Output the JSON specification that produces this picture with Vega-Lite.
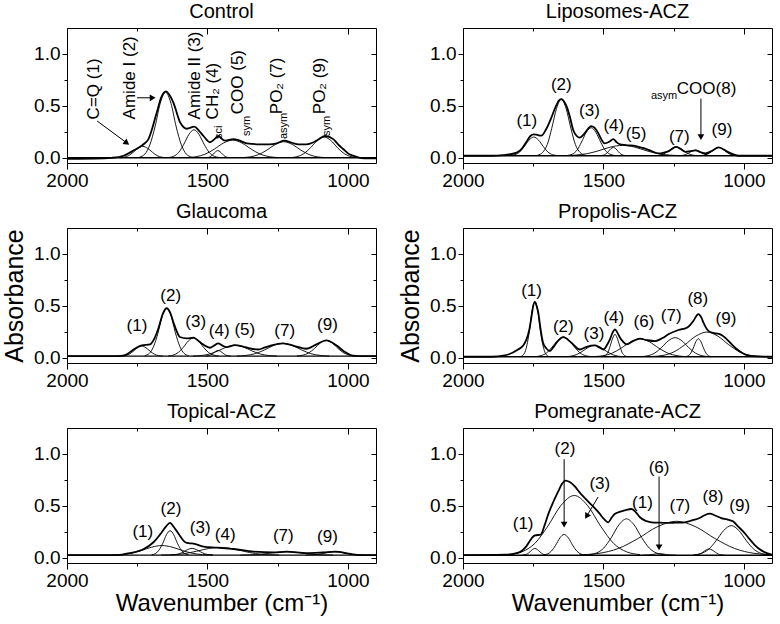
{
"$schema":"https://vega.github.io/schema/vega-lite/v6.json",
"background":"white",
"padding":{"left":2,"top":1,"right":0,"bottom":0},
"config":{
 "view":{"stroke":"black","strokeWidth":1},
 "font":"Liberation Sans",
 "mark":{"color":"black"},
 "axis":{"grid":false,"domain":false,"tickColor":"black","tickWidth":1,"labelColor":"black","labelFont":"Liberation Sans","labelFontSize":19,"labelPadding":2,"titleFont":"Liberation Sans","titleFontSize":25,"titleFontWeight":"normal","titleColor":"black","titlePadding":6},
 "title":{"font":"Liberation Sans","fontSize":20,"fontWeight":"normal","color":"black","offset":6},
 "text":{"font":"Liberation Sans","fontSize":17,"color":"black"},
 "concat":{"spacing":20}
},
"datasets":{
"base":[{"p":"C","y":0},{"p":"L","y":0.02},{"p":"G","y":0.016},{"p":"P","y":0.01},{"p":"T","y":0.026},{"p":"M","y":0.025}],
"comp":[
{"p":"C","s":"1","x":1646,"y":0.001},{"p":"C","s":"1","x":1663,"y":0.006},{"p":"C","s":"1","x":1680,"y":0.022},{"p":"C","s":"1","x":1696,"y":0.054},{"p":"C","s":"1","x":1713,"y":0.092},{"p":"C","s":"1","x":1730,"y":0.11},{"p":"C","s":"1","x":1747,"y":0.092},{"p":"C","s":"1","x":1764,"y":0.054},{"p":"C","s":"1","x":1780,"y":0.022},{"p":"C","s":"1","x":1797,"y":0.006},{"p":"C","s":"1","x":1814,"y":0.001},
{"p":"C","s":"2","x":1556,"y":0.007},{"p":"C","s":"2","x":1575,"y":0.035},{"p":"C","s":"2","x":1593,"y":0.125},{"p":"C","s":"2","x":1612,"y":0.307},{"p":"C","s":"2","x":1630,"y":0.526},{"p":"C","s":"2","x":1649,"y":0.63},{"p":"C","s":"2","x":1668,"y":0.526},{"p":"C","s":"2","x":1686,"y":0.307},{"p":"C","s":"2","x":1705,"y":0.125},{"p":"C","s":"2","x":1723,"y":0.035},{"p":"C","s":"2","x":1742,"y":0.007},
{"p":"C","s":"3","x":1458,"y":0.003},{"p":"C","s":"3","x":1476,"y":0.015},{"p":"C","s":"3","x":1494,"y":0.053},{"p":"C","s":"3","x":1512,"y":0.131},{"p":"C","s":"3","x":1530,"y":0.225},{"p":"C","s":"3","x":1548,"y":0.27},{"p":"C","s":"3","x":1566,"y":0.225},{"p":"C","s":"3","x":1584,"y":0.131},{"p":"C","s":"3","x":1602,"y":0.053},{"p":"C","s":"3","x":1620,"y":0.015},{"p":"C","s":"3","x":1638,"y":0.003},
{"p":"C","s":"4","x":1421,"y":0.001},{"p":"C","s":"4","x":1429,"y":0.004},{"p":"C","s":"4","x":1438,"y":0.014},{"p":"C","s":"4","x":1446,"y":0.034},{"p":"C","s":"4","x":1455,"y":0.058},{"p":"C","s":"4","x":1463,"y":0.07},{"p":"C","s":"4","x":1471,"y":0.058},{"p":"C","s":"4","x":1480,"y":0.034},{"p":"C","s":"4","x":1488,"y":0.014},{"p":"C","s":"4","x":1497,"y":0.004},{"p":"C","s":"4","x":1505,"y":0.001},
{"p":"C","s":"5","x":1245,"y":0.002},{"p":"C","s":"5","x":1278,"y":0.01},{"p":"C","s":"5","x":1311,"y":0.034},{"p":"C","s":"5","x":1344,"y":0.083},{"p":"C","s":"5","x":1377,"y":0.142},{"p":"C","s":"5","x":1410,"y":0.17},{"p":"C","s":"5","x":1443,"y":0.142},{"p":"C","s":"5","x":1476,"y":0.083},{"p":"C","s":"5","x":1509,"y":0.034},{"p":"C","s":"5","x":1542,"y":0.01},{"p":"C","s":"5","x":1575,"y":0.002},
{"p":"C","s":"7","x":1078,"y":0.002},{"p":"C","s":"7","x":1108,"y":0.009},{"p":"C","s":"7","x":1138,"y":0.031},{"p":"C","s":"7","x":1168,"y":0.075},{"p":"C","s":"7","x":1198,"y":0.129},{"p":"C","s":"7","x":1228,"y":0.155},{"p":"C","s":"7","x":1258,"y":0.129},{"p":"C","s":"7","x":1288,"y":0.075},{"p":"C","s":"7","x":1318,"y":0.031},{"p":"C","s":"7","x":1348,"y":0.009},{"p":"C","s":"7","x":1378,"y":0.002},
{"p":"C","s":"9","x":965,"y":0.002},{"p":"C","s":"9","x":989,"y":0.011},{"p":"C","s":"9","x":1013,"y":0.04},{"p":"C","s":"9","x":1037,"y":0.097},{"p":"C","s":"9","x":1061,"y":0.167},{"p":"C","s":"9","x":1085,"y":0.2},{"p":"C","s":"9","x":1109,"y":0.167},{"p":"C","s":"9","x":1133,"y":0.097},{"p":"C","s":"9","x":1157,"y":0.04},{"p":"C","s":"9","x":1181,"y":0.011},{"p":"C","s":"9","x":1205,"y":0.002},

{"p":"L","s":"1","x":1664,"y":0.022},{"p":"L","s":"1","x":1681,"y":0.03},{"p":"L","s":"1","x":1698,"y":0.056},{"p":"L","s":"1","x":1714,"y":0.108},{"p":"L","s":"1","x":1731,"y":0.17},{"p":"L","s":"1","x":1748,"y":0.2},{"p":"L","s":"1","x":1765,"y":0.17},{"p":"L","s":"1","x":1782,"y":0.108},{"p":"L","s":"1","x":1798,"y":0.056},{"p":"L","s":"1","x":1815,"y":0.03},{"p":"L","s":"1","x":1832,"y":0.022},
{"p":"L","s":"2","x":1566,"y":0.026},{"p":"L","s":"2","x":1583,"y":0.051},{"p":"L","s":"2","x":1600,"y":0.128},{"p":"L","s":"2","x":1616,"y":0.285},{"p":"L","s":"2","x":1633,"y":0.475},{"p":"L","s":"2","x":1650,"y":0.565},{"p":"L","s":"2","x":1667,"y":0.475},{"p":"L","s":"2","x":1684,"y":0.285},{"p":"L","s":"2","x":1700,"y":0.128},{"p":"L","s":"2","x":1717,"y":0.051},{"p":"L","s":"2","x":1734,"y":0.026},
{"p":"L","s":"3","x":1460,"y":0.023},{"p":"L","s":"3","x":1477,"y":0.035},{"p":"L","s":"3","x":1494,"y":0.074},{"p":"L","s":"3","x":1510,"y":0.152},{"p":"L","s":"3","x":1527,"y":0.246},{"p":"L","s":"3","x":1544,"y":0.29},{"p":"L","s":"3","x":1561,"y":0.246},{"p":"L","s":"3","x":1578,"y":0.152},{"p":"L","s":"3","x":1594,"y":0.074},{"p":"L","s":"3","x":1611,"y":0.035},{"p":"L","s":"3","x":1628,"y":0.023},
{"p":"L","s":"4","x":1420,"y":0.021},{"p":"L","s":"4","x":1429,"y":0.025},{"p":"L","s":"4","x":1438,"y":0.036},{"p":"L","s":"4","x":1447,"y":0.059},{"p":"L","s":"4","x":1456,"y":0.087},{"p":"L","s":"4","x":1465,"y":0.1},{"p":"L","s":"4","x":1474,"y":0.087},{"p":"L","s":"4","x":1483,"y":0.059},{"p":"L","s":"4","x":1492,"y":0.036},{"p":"L","s":"4","x":1501,"y":0.025},{"p":"L","s":"4","x":1510,"y":0.021},
{"p":"L","s":"5","x":1222,"y":0.021},{"p":"L","s":"5","x":1264,"y":0.026},{"p":"L","s":"5","x":1306,"y":0.04},{"p":"L","s":"5","x":1348,"y":0.069},{"p":"L","s":"5","x":1390,"y":0.104},{"p":"L","s":"5","x":1432,"y":0.12},{"p":"L","s":"5","x":1474,"y":0.104},{"p":"L","s":"5","x":1516,"y":0.069},{"p":"L","s":"5","x":1558,"y":0.04},{"p":"L","s":"5","x":1600,"y":0.026},{"p":"L","s":"5","x":1642,"y":0.021},
{"p":"L","s":"7","x":1166,"y":0.021},{"p":"L","s":"7","x":1181,"y":0.025},{"p":"L","s":"7","x":1196,"y":0.037},{"p":"L","s":"7","x":1211,"y":0.062},{"p":"L","s":"7","x":1226,"y":0.092},{"p":"L","s":"7","x":1241,"y":0.106},{"p":"L","s":"7","x":1256,"y":0.092},{"p":"L","s":"7","x":1271,"y":0.062},{"p":"L","s":"7","x":1286,"y":0.037},{"p":"L","s":"7","x":1301,"y":0.025},{"p":"L","s":"7","x":1316,"y":0.021},
{"p":"L","s":"8","x":1112,"y":0.021},{"p":"L","s":"8","x":1124,"y":0.023},{"p":"L","s":"8","x":1136,"y":0.031},{"p":"L","s":"8","x":1148,"y":0.046},{"p":"L","s":"8","x":1160,"y":0.065},{"p":"L","s":"8","x":1172,"y":0.074},{"p":"L","s":"8","x":1184,"y":0.065},{"p":"L","s":"8","x":1196,"y":0.046},{"p":"L","s":"8","x":1208,"y":0.031},{"p":"L","s":"8","x":1220,"y":0.023},{"p":"L","s":"8","x":1232,"y":0.021},
{"p":"L","s":"9","x":1024,"y":0.021},{"p":"L","s":"9","x":1037,"y":0.025},{"p":"L","s":"9","x":1050,"y":0.036},{"p":"L","s":"9","x":1064,"y":0.059},{"p":"L","s":"9","x":1077,"y":0.087},{"p":"L","s":"9","x":1090,"y":0.1},{"p":"L","s":"9","x":1103,"y":0.087},{"p":"L","s":"9","x":1116,"y":0.059},{"p":"L","s":"9","x":1130,"y":0.036},{"p":"L","s":"9","x":1143,"y":0.025},{"p":"L","s":"9","x":1156,"y":0.021},

{"p":"G","s":"1","x":1659,"y":0.017},{"p":"G","s":"1","x":1674,"y":0.021},{"p":"G","s":"1","x":1689,"y":0.035},{"p":"G","s":"1","x":1704,"y":0.063},{"p":"G","s":"1","x":1719,"y":0.097},{"p":"G","s":"1","x":1734,"y":0.113},{"p":"G","s":"1","x":1749,"y":0.097},{"p":"G","s":"1","x":1764,"y":0.063},{"p":"G","s":"1","x":1779,"y":0.035},{"p":"G","s":"1","x":1794,"y":0.021},{"p":"G","s":"1","x":1809,"y":0.017},
{"p":"G","s":"2","x":1567,"y":0.021},{"p":"G","s":"2","x":1583,"y":0.042},{"p":"G","s":"2","x":1598,"y":0.107},{"p":"G","s":"2","x":1614,"y":0.24},{"p":"G","s":"2","x":1629,"y":0.4},{"p":"G","s":"2","x":1645,"y":0.476},{"p":"G","s":"2","x":1661,"y":0.4},{"p":"G","s":"2","x":1676,"y":0.24},{"p":"G","s":"2","x":1692,"y":0.107},{"p":"G","s":"2","x":1707,"y":0.042},{"p":"G","s":"2","x":1723,"y":0.021},
{"p":"G","s":"3","x":1460,"y":0.018},{"p":"G","s":"3","x":1478,"y":0.026},{"p":"G","s":"3","x":1496,"y":0.051},{"p":"G","s":"3","x":1514,"y":0.101},{"p":"G","s":"3","x":1532,"y":0.162},{"p":"G","s":"3","x":1550,"y":0.191},{"p":"G","s":"3","x":1568,"y":0.162},{"p":"G","s":"3","x":1586,"y":0.101},{"p":"G","s":"3","x":1604,"y":0.051},{"p":"G","s":"3","x":1622,"y":0.026},{"p":"G","s":"3","x":1640,"y":0.018},
{"p":"G","s":"4","x":1417,"y":0.017},{"p":"G","s":"4","x":1426,"y":0.019},{"p":"G","s":"4","x":1435,"y":0.027},{"p":"G","s":"4","x":1444,"y":0.043},{"p":"G","s":"4","x":1453,"y":0.062},{"p":"G","s":"4","x":1462,"y":0.071},{"p":"G","s":"4","x":1471,"y":0.062},{"p":"G","s":"4","x":1480,"y":0.043},{"p":"G","s":"4","x":1489,"y":0.027},{"p":"G","s":"4","x":1498,"y":0.019},{"p":"G","s":"4","x":1507,"y":0.017},
{"p":"G","s":"5","x":1252,"y":0.017},{"p":"G","s":"5","x":1282,"y":0.022},{"p":"G","s":"5","x":1312,"y":0.037},{"p":"G","s":"5","x":1342,"y":0.067},{"p":"G","s":"5","x":1372,"y":0.104},{"p":"G","s":"5","x":1402,"y":0.121},{"p":"G","s":"5","x":1432,"y":0.104},{"p":"G","s":"5","x":1462,"y":0.067},{"p":"G","s":"5","x":1492,"y":0.037},{"p":"G","s":"5","x":1522,"y":0.022},{"p":"G","s":"5","x":1552,"y":0.017},
{"p":"G","s":"7","x":1066,"y":0.017},{"p":"G","s":"7","x":1099,"y":0.023},{"p":"G","s":"7","x":1132,"y":0.04},{"p":"G","s":"7","x":1165,"y":0.076},{"p":"G","s":"7","x":1198,"y":0.119},{"p":"G","s":"7","x":1231,"y":0.139},{"p":"G","s":"7","x":1264,"y":0.119},{"p":"G","s":"7","x":1297,"y":0.076},{"p":"G","s":"7","x":1330,"y":0.04},{"p":"G","s":"7","x":1363,"y":0.023},{"p":"G","s":"7","x":1396,"y":0.017},
{"p":"G","s":"9","x":972,"y":0.018},{"p":"G","s":"9","x":993,"y":0.025},{"p":"G","s":"9","x":1014,"y":0.046},{"p":"G","s":"9","x":1035,"y":0.09},{"p":"G","s":"9","x":1056,"y":0.143},{"p":"G","s":"9","x":1077,"y":0.168},{"p":"G","s":"9","x":1098,"y":0.143},{"p":"G","s":"9","x":1119,"y":0.09},{"p":"G","s":"9","x":1140,"y":0.046},{"p":"G","s":"9","x":1161,"y":0.025},{"p":"G","s":"9","x":1182,"y":0.018},

{"p":"P","s":"1","x":1696,"y":0.016},{"p":"P","s":"1","x":1706,"y":0.04},{"p":"P","s":"1","x":1715,"y":0.115},{"p":"P","s":"1","x":1725,"y":0.268},{"p":"P","s":"1","x":1734,"y":0.453},{"p":"P","s":"1","x":1744,"y":0.54},{"p":"P","s":"1","x":1754,"y":0.453},{"p":"P","s":"1","x":1763,"y":0.268},{"p":"P","s":"1","x":1773,"y":0.115},{"p":"P","s":"1","x":1782,"y":0.04},{"p":"P","s":"1","x":1792,"y":0.016},
{"p":"P","s":"2","x":1544,"y":0.012},{"p":"P","s":"2","x":1564,"y":0.021},{"p":"P","s":"2","x":1584,"y":0.048},{"p":"P","s":"2","x":1603,"y":0.103},{"p":"P","s":"2","x":1623,"y":0.169},{"p":"P","s":"2","x":1643,"y":0.2},{"p":"P","s":"2","x":1663,"y":0.169},{"p":"P","s":"2","x":1683,"y":0.103},{"p":"P","s":"2","x":1702,"y":0.048},{"p":"P","s":"2","x":1722,"y":0.021},{"p":"P","s":"2","x":1742,"y":0.012},
{"p":"P","s":"3","x":1427,"y":0.011},{"p":"P","s":"3","x":1448,"y":0.016},{"p":"P","s":"3","x":1469,"y":0.032},{"p":"P","s":"3","x":1490,"y":0.064},{"p":"P","s":"3","x":1511,"y":0.102},{"p":"P","s":"3","x":1532,"y":0.12},{"p":"P","s":"3","x":1553,"y":0.102},{"p":"P","s":"3","x":1574,"y":0.064},{"p":"P","s":"3","x":1595,"y":0.032},{"p":"P","s":"3","x":1616,"y":0.016},{"p":"P","s":"3","x":1637,"y":0.011},
{"p":"P","s":"4","x":1417,"y":0.012},{"p":"P","s":"4","x":1425,"y":0.022},{"p":"P","s":"4","x":1434,"y":0.053},{"p":"P","s":"4","x":1442,"y":0.115},{"p":"P","s":"4","x":1451,"y":0.19},{"p":"P","s":"4","x":1459,"y":0.226},{"p":"P","s":"4","x":1467,"y":0.19},{"p":"P","s":"4","x":1476,"y":0.115},{"p":"P","s":"4","x":1484,"y":0.053},{"p":"P","s":"4","x":1493,"y":0.022},{"p":"P","s":"4","x":1501,"y":0.012},
{"p":"P","s":"6","x":1205,"y":0.012},{"p":"P","s":"6","x":1238,"y":0.02},{"p":"P","s":"6","x":1271,"y":0.045},{"p":"P","s":"6","x":1304,"y":0.095},{"p":"P","s":"6","x":1337,"y":0.155},{"p":"P","s":"6","x":1370,"y":0.184},{"p":"P","s":"6","x":1403,"y":0.155},{"p":"P","s":"6","x":1436,"y":0.095},{"p":"P","s":"6","x":1469,"y":0.045},{"p":"P","s":"6","x":1502,"y":0.02},{"p":"P","s":"6","x":1535,"y":0.012},
{"p":"P","s":"7","x":1125,"y":0.012},{"p":"P","s":"7","x":1149,"y":0.02},{"p":"P","s":"7","x":1173,"y":0.046},{"p":"P","s":"7","x":1197,"y":0.1},{"p":"P","s":"7","x":1221,"y":0.164},{"p":"P","s":"7","x":1245,"y":0.194},{"p":"P","s":"7","x":1269,"y":0.164},{"p":"P","s":"7","x":1293,"y":0.1},{"p":"P","s":"7","x":1317,"y":0.046},{"p":"P","s":"7","x":1341,"y":0.02},{"p":"P","s":"7","x":1365,"y":0.012},
{"p":"P","s":"8","x":1117,"y":0.012},{"p":"P","s":"8","x":1126,"y":0.02},{"p":"P","s":"8","x":1135,"y":0.045},{"p":"P","s":"8","x":1144,"y":0.095},{"p":"P","s":"8","x":1153,"y":0.155},{"p":"P","s":"8","x":1162,"y":0.184},{"p":"P","s":"8","x":1171,"y":0.155},{"p":"P","s":"8","x":1180,"y":0.095},{"p":"P","s":"8","x":1189,"y":0.045},{"p":"P","s":"8","x":1198,"y":0.02},{"p":"P","s":"8","x":1207,"y":0.012},
{"p":"P","s":"9","x":937,"y":0.013},{"p":"P","s":"9","x":976,"y":0.023},{"p":"P","s":"9","x":1015,"y":0.057},{"p":"P","s":"9","x":1054,"y":0.126},{"p":"P","s":"9","x":1093,"y":0.209},{"p":"P","s":"9","x":1132,"y":0.248},{"p":"P","s":"9","x":1171,"y":0.209},{"p":"P","s":"9","x":1210,"y":0.126},{"p":"P","s":"9","x":1249,"y":0.057},{"p":"P","s":"9","x":1288,"y":0.023},{"p":"P","s":"9","x":1327,"y":0.013},

{"p":"T","s":"1","x":1482,"y":0.027},{"p":"T","s":"1","x":1518,"y":0.031},{"p":"T","s":"1","x":1554,"y":0.044},{"p":"T","s":"1","x":1590,"y":0.071},{"p":"T","s":"1","x":1626,"y":0.103},{"p":"T","s":"1","x":1662,"y":0.118},{"p":"T","s":"1","x":1698,"y":0.103},{"p":"T","s":"1","x":1734,"y":0.071},{"p":"T","s":"1","x":1770,"y":0.044},{"p":"T","s":"1","x":1806,"y":0.031},{"p":"T","s":"1","x":1842,"y":0.027},
{"p":"T","s":"2","x":1567,"y":0.029},{"p":"T","s":"2","x":1580,"y":0.039},{"p":"T","s":"2","x":1593,"y":0.073},{"p":"T","s":"2","x":1607,"y":0.14},{"p":"T","s":"2","x":1620,"y":0.222},{"p":"T","s":"2","x":1633,"y":0.261},{"p":"T","s":"2","x":1646,"y":0.222},{"p":"T","s":"2","x":1659,"y":0.14},{"p":"T","s":"2","x":1673,"y":0.073},{"p":"T","s":"2","x":1686,"y":0.039},{"p":"T","s":"2","x":1699,"y":0.029},
{"p":"T","s":"3","x":1480,"y":0.027},{"p":"T","s":"3","x":1495,"y":0.03},{"p":"T","s":"3","x":1510,"y":0.039},{"p":"T","s":"3","x":1525,"y":0.058},{"p":"T","s":"3","x":1540,"y":0.08},{"p":"T","s":"3","x":1555,"y":0.091},{"p":"T","s":"3","x":1570,"y":0.08},{"p":"T","s":"3","x":1585,"y":0.058},{"p":"T","s":"3","x":1600,"y":0.039},{"p":"T","s":"3","x":1615,"y":0.03},{"p":"T","s":"3","x":1630,"y":0.027},
{"p":"T","s":"4","x":1245,"y":0.027},{"p":"T","s":"4","x":1287,"y":0.03},{"p":"T","s":"4","x":1329,"y":0.041},{"p":"T","s":"4","x":1371,"y":0.063},{"p":"T","s":"4","x":1413,"y":0.089},{"p":"T","s":"4","x":1455,"y":0.101},{"p":"T","s":"4","x":1497,"y":0.089},{"p":"T","s":"4","x":1539,"y":0.063},{"p":"T","s":"4","x":1581,"y":0.041},{"p":"T","s":"4","x":1623,"y":0.03},{"p":"T","s":"4","x":1665,"y":0.027},
{"p":"T","s":"7","x":1053,"y":0.026},{"p":"T","s":"7","x":1086,"y":0.028},{"p":"T","s":"7","x":1119,"y":0.032},{"p":"T","s":"7","x":1152,"y":0.042},{"p":"T","s":"7","x":1185,"y":0.053},{"p":"T","s":"7","x":1218,"y":0.058},{"p":"T","s":"7","x":1251,"y":0.053},{"p":"T","s":"7","x":1284,"y":0.042},{"p":"T","s":"7","x":1317,"y":0.032},{"p":"T","s":"7","x":1350,"y":0.028},{"p":"T","s":"7","x":1383,"y":0.026},
{"p":"T","s":"9","x":941,"y":0.026},{"p":"T","s":"9","x":962,"y":0.028},{"p":"T","s":"9","x":983,"y":0.032},{"p":"T","s":"9","x":1004,"y":0.042},{"p":"T","s":"9","x":1025,"y":0.053},{"p":"T","s":"9","x":1046,"y":0.058},{"p":"T","s":"9","x":1067,"y":0.053},{"p":"T","s":"9","x":1088,"y":0.042},{"p":"T","s":"9","x":1109,"y":0.032},{"p":"T","s":"9","x":1130,"y":0.028},{"p":"T","s":"9","x":1151,"y":0.026},

{"p":"M","s":"1","x":1699,"y":0.026},{"p":"M","s":"1","x":1708,"y":0.029},{"p":"M","s":"1","x":1717,"y":0.038},{"p":"M","s":"1","x":1726,"y":0.057},{"p":"M","s":"1","x":1735,"y":0.079},{"p":"M","s":"1","x":1744,"y":0.09},{"p":"M","s":"1","x":1753,"y":0.079},{"p":"M","s":"1","x":1762,"y":0.057},{"p":"M","s":"1","x":1771,"y":0.038},{"p":"M","s":"1","x":1780,"y":0.029},{"p":"M","s":"1","x":1789,"y":0.026},
{"p":"M","s":"2","x":1565,"y":0.027},{"p":"M","s":"2","x":1580,"y":0.036},{"p":"M","s":"2","x":1595,"y":0.065},{"p":"M","s":"2","x":1610,"y":0.122},{"p":"M","s":"2","x":1625,"y":0.192},{"p":"M","s":"2","x":1640,"y":0.225},{"p":"M","s":"2","x":1655,"y":0.192},{"p":"M","s":"2","x":1670,"y":0.122},{"p":"M","s":"2","x":1685,"y":0.065},{"p":"M","s":"2","x":1700,"y":0.036},{"p":"M","s":"2","x":1715,"y":0.027},
{"p":"M","s":"3","x":1370,"y":0.031},{"p":"M","s":"3","x":1417,"y":0.057},{"p":"M","s":"3","x":1464,"y":0.139},{"p":"M","s":"3","x":1510,"y":0.305},{"p":"M","s":"3","x":1557,"y":0.505},{"p":"M","s":"3","x":1604,"y":0.6},{"p":"M","s":"3","x":1651,"y":0.505},{"p":"M","s":"3","x":1698,"y":0.305},{"p":"M","s":"3","x":1744,"y":0.139},{"p":"M","s":"3","x":1791,"y":0.057},{"p":"M","s":"3","x":1838,"y":0.031},
{"p":"M","s":"1b","x":1283,"y":0.029},{"p":"M","s":"1b","x":1310,"y":0.045},{"p":"M","s":"1b","x":1337,"y":0.094},{"p":"M","s":"1b","x":1364,"y":0.195},{"p":"M","s":"1b","x":1391,"y":0.317},{"p":"M","s":"1b","x":1418,"y":0.375},{"p":"M","s":"1b","x":1445,"y":0.317},{"p":"M","s":"1b","x":1472,"y":0.195},{"p":"M","s":"1b","x":1499,"y":0.094},{"p":"M","s":"1b","x":1526,"y":0.045},{"p":"M","s":"1b","x":1553,"y":0.029},
{"p":"M","s":"6","x":1242,"y":0.025},{"p":"M","s":"6","x":1254,"y":0.026},{"p":"M","s":"6","x":1266,"y":0.028},{"p":"M","s":"6","x":1278,"y":0.032},{"p":"M","s":"6","x":1290,"y":0.038},{"p":"M","s":"6","x":1302,"y":0.04},{"p":"M","s":"6","x":1314,"y":0.038},{"p":"M","s":"6","x":1326,"y":0.032},{"p":"M","s":"6","x":1338,"y":0.028},{"p":"M","s":"6","x":1350,"y":0.026},{"p":"M","s":"6","x":1362,"y":0.025},
{"p":"M","s":"7","x":900,"y":0.03},{"p":"M","s":"7","x":964,"y":0.043},{"p":"M","s":"7","x":1033,"y":0.09},{"p":"M","s":"7","x":1102,"y":0.184},{"p":"M","s":"7","x":1171,"y":0.298},{"p":"M","s":"7","x":1240,"y":0.352},{"p":"M","s":"7","x":1309,"y":0.298},{"p":"M","s":"7","x":1378,"y":0.184},{"p":"M","s":"7","x":1447,"y":0.09},{"p":"M","s":"7","x":1516,"y":0.043},{"p":"M","s":"7","x":1585,"y":0.029},
{"p":"M","s":"8","x":1070,"y":0.026},{"p":"M","s":"8","x":1081,"y":0.028},{"p":"M","s":"8","x":1092,"y":0.037},{"p":"M","s":"8","x":1102,"y":0.054},{"p":"M","s":"8","x":1113,"y":0.075},{"p":"M","s":"8","x":1124,"y":0.085},{"p":"M","s":"8","x":1135,"y":0.075},{"p":"M","s":"8","x":1146,"y":0.054},{"p":"M","s":"8","x":1156,"y":0.037},{"p":"M","s":"8","x":1167,"y":0.028},{"p":"M","s":"8","x":1178,"y":0.026},
{"p":"M","s":"9","x":910,"y":0.028},{"p":"M","s":"9","x":937,"y":0.041},{"p":"M","s":"9","x":964,"y":0.081},{"p":"M","s":"9","x":991,"y":0.164},{"p":"M","s":"9","x":1018,"y":0.263},{"p":"M","s":"9","x":1045,"y":0.31},{"p":"M","s":"9","x":1072,"y":0.263},{"p":"M","s":"9","x":1099,"y":0.164},{"p":"M","s":"9","x":1126,"y":0.081},{"p":"M","s":"9","x":1153,"y":0.041},{"p":"M","s":"9","x":1180,"y":0.028}
],
"env":[
{"p":"C","x":2000,"y":-0.01},{"p":"C","x":1900,"y":-0.008},{"p":"C","x":1840,"y":0.0},{"p":"C","x":1799,"y":0.02},{"p":"C","x":1763,"y":0.07},{"p":"C","x":1733,"y":0.12},{"p":"C","x":1710,"y":0.18},{"p":"C","x":1680,"y":0.44},{"p":"C","x":1665,"y":0.58},{"p":"C","x":1648,"y":0.64},{"p":"C","x":1634,"y":0.6},{"p":"C","x":1621,"y":0.53},{"p":"C","x":1597,"y":0.34},{"p":"C","x":1573,"y":0.28},{"p":"C","x":1547,"y":0.3},{"p":"C","x":1530,"y":0.26},{"p":"C","x":1514,"y":0.21},{"p":"C","x":1491,"y":0.15},{"p":"C","x":1475,"y":0.18},{"p":"C","x":1461,"y":0.21},{"p":"C","x":1448,"y":0.18},{"p":"C","x":1437,"y":0.165},{"p":"C","x":1408,"y":0.18},{"p":"C","x":1385,"y":0.165},{"p":"C","x":1360,"y":0.14},{"p":"C","x":1313,"y":0.13},{"p":"C","x":1280,"y":0.13},{"p":"C","x":1253,"y":0.14},{"p":"C","x":1226,"y":0.165},{"p":"C","x":1200,"y":0.145},{"p":"C","x":1175,"y":0.13},{"p":"C","x":1147,"y":0.13},{"p":"C","x":1111,"y":0.165},{"p":"C","x":1082,"y":0.21},{"p":"C","x":1052,"y":0.18},{"p":"C","x":1035,"y":0.13},{"p":"C","x":1017,"y":0.085},{"p":"C","x":998,"y":0.04},{"p":"C","x":981,"y":0.02},{"p":"C","x":957,"y":0.0},{"p":"C","x":930,"y":-0.005},{"p":"C","x":900,"y":-0.005},
{"p":"L","x":2000,"y":0.02},{"p":"L","x":1900,"y":0.02},{"p":"L","x":1856,"y":0.026},{"p":"L","x":1809,"y":0.05},{"p":"L","x":1790,"y":0.09},{"p":"L","x":1774,"y":0.155},{"p":"L","x":1760,"y":0.21},{"p":"L","x":1748,"y":0.226},{"p":"L","x":1735,"y":0.22},{"p":"L","x":1721,"y":0.213},{"p":"L","x":1705,"y":0.27},{"p":"L","x":1691,"y":0.35},{"p":"L","x":1667,"y":0.51},{"p":"L","x":1659,"y":0.55},{"p":"L","x":1650,"y":0.565},{"p":"L","x":1641,"y":0.545},{"p":"L","x":1632,"y":0.5},{"p":"L","x":1620,"y":0.4},{"p":"L","x":1608,"y":0.27},{"p":"L","x":1595,"y":0.21},{"p":"L","x":1585,"y":0.194},{"p":"L","x":1572,"y":0.22},{"p":"L","x":1561,"y":0.258},{"p":"L","x":1544,"y":0.306},{"p":"L","x":1532,"y":0.29},{"p":"L","x":1520,"y":0.245},{"p":"L","x":1508,"y":0.18},{"p":"L","x":1496,"y":0.139},{"p":"L","x":1479,"y":0.155},{"p":"L","x":1465,"y":0.18},{"p":"L","x":1453,"y":0.15},{"p":"L","x":1443,"y":0.132},{"p":"L","x":1420,"y":0.123},{"p":"L","x":1384,"y":0.113},{"p":"L","x":1360,"y":0.095},{"p":"L","x":1337,"y":0.074},{"p":"L","x":1302,"y":0.042},{"p":"L","x":1285,"y":0.05},{"p":"L","x":1267,"y":0.065},{"p":"L","x":1241,"y":0.106},{"p":"L","x":1225,"y":0.085},{"p":"L","x":1208,"y":0.058},{"p":"L","x":1190,"y":0.065},{"p":"L","x":1172,"y":0.071},{"p":"L","x":1155,"y":0.055},{"p":"L","x":1137,"y":0.042},{"p":"L","x":1115,"y":0.065},{"p":"L","x":1090,"y":0.1},{"p":"L","x":1072,"y":0.08},{"p":"L","x":1054,"y":0.052},{"p":"L","x":1035,"y":0.03},{"p":"L","x":1019,"y":0.02},{"p":"L","x":900,"y":0.02},
{"p":"G","x":2000,"y":0.016},{"p":"G","x":1820,"y":0.016},{"p":"G","x":1793,"y":0.026},{"p":"G","x":1763,"y":0.08},{"p":"G","x":1734,"y":0.12},{"p":"G","x":1704,"y":0.13},{"p":"G","x":1690,"y":0.18},{"p":"G","x":1675,"y":0.28},{"p":"G","x":1658,"y":0.43},{"p":"G","x":1645,"y":0.477},{"p":"G","x":1632,"y":0.43},{"p":"G","x":1621,"y":0.34},{"p":"G","x":1610,"y":0.26},{"p":"G","x":1598,"y":0.2},{"p":"G","x":1574,"y":0.187},{"p":"G","x":1550,"y":0.194},{"p":"G","x":1535,"y":0.17},{"p":"G","x":1521,"y":0.139},{"p":"G","x":1491,"y":0.097},{"p":"G","x":1475,"y":0.12},{"p":"G","x":1462,"y":0.139},{"p":"G","x":1448,"y":0.12},{"p":"G","x":1432,"y":0.103},{"p":"G","x":1402,"y":0.123},{"p":"G","x":1367,"y":0.103},{"p":"G","x":1320,"y":0.08},{"p":"G","x":1295,"y":0.1},{"p":"G","x":1272,"y":0.12},{"p":"G","x":1231,"y":0.139},{"p":"G","x":1189,"y":0.113},{"p":"G","x":1148,"y":0.087},{"p":"G","x":1112,"y":0.13},{"p":"G","x":1077,"y":0.168},{"p":"G","x":1041,"y":0.12},{"p":"G","x":1012,"y":0.058},{"p":"G","x":982,"y":0.02},{"p":"G","x":960,"y":0.016},{"p":"G","x":900,"y":0.016},
{"p":"P","x":2000,"y":0.01},{"p":"P","x":1899,"y":0.01},{"p":"P","x":1851,"y":0.023},{"p":"P","x":1804,"y":0.08},{"p":"P","x":1785,"y":0.12},{"p":"P","x":1774,"y":0.177},{"p":"P","x":1764,"y":0.27},{"p":"P","x":1756,"y":0.4},{"p":"P","x":1750,"y":0.5},{"p":"P","x":1744,"y":0.539},{"p":"P","x":1738,"y":0.5},{"p":"P","x":1732,"y":0.435},{"p":"P","x":1724,"y":0.28},{"p":"P","x":1715,"y":0.145},{"p":"P","x":1703,"y":0.09},{"p":"P","x":1691,"y":0.065},{"p":"P","x":1679,"y":0.1},{"p":"P","x":1667,"y":0.145},{"p":"P","x":1643,"y":0.2},{"p":"P","x":1614,"y":0.145},{"p":"P","x":1584,"y":0.08},{"p":"P","x":1560,"y":0.106},{"p":"P","x":1530,"y":0.119},{"p":"P","x":1515,"y":0.1},{"p":"P","x":1500,"y":0.08},{"p":"P","x":1488,"y":0.12},{"p":"P","x":1477,"y":0.177},{"p":"P","x":1468,"y":0.24},{"p":"P","x":1459,"y":0.274},{"p":"P","x":1450,"y":0.24},{"p":"P","x":1441,"y":0.194},{"p":"P","x":1430,"y":0.155},{"p":"P","x":1417,"y":0.129},{"p":"P","x":1395,"y":0.16},{"p":"P","x":1370,"y":0.184},{"p":"P","x":1345,"y":0.17},{"p":"P","x":1316,"y":0.161},{"p":"P","x":1290,"y":0.19},{"p":"P","x":1269,"y":0.226},{"p":"P","x":1233,"y":0.268},{"p":"P","x":1203,"y":0.29},{"p":"P","x":1190,"y":0.32},{"p":"P","x":1180,"y":0.355},{"p":"P","x":1162,"y":0.42},{"p":"P","x":1152,"y":0.39},{"p":"P","x":1144,"y":0.339},{"p":"P","x":1130,"y":0.27},{"p":"P","x":1120,"y":0.248},{"p":"P","x":1100,"y":0.235},{"p":"P","x":1084,"y":0.226},{"p":"P","x":1065,"y":0.19},{"p":"P","x":1049,"y":0.145},{"p":"P","x":1028,"y":0.09},{"p":"P","x":1007,"y":0.048},{"p":"P","x":990,"y":0.025},{"p":"P","x":971,"y":0.016},{"p":"P","x":900,"y":0.01},
{"p":"T","x":2000,"y":0.026},{"p":"T","x":1822,"y":0.026},{"p":"T","x":1775,"y":0.046},{"p":"T","x":1727,"y":0.085},{"p":"T","x":1692,"y":0.15},{"p":"T","x":1662,"y":0.248},{"p":"T","x":1648,"y":0.3},{"p":"T","x":1633,"y":0.337},{"p":"T","x":1618,"y":0.29},{"p":"T","x":1603,"y":0.232},{"p":"T","x":1579,"y":0.15},{"p":"T","x":1565,"y":0.14},{"p":"T","x":1550,"y":0.137},{"p":"T","x":1514,"y":0.108},{"p":"T","x":1467,"y":0.098},{"p":"T","x":1407,"y":0.085},{"p":"T","x":1336,"y":0.059},{"p":"T","x":1265,"y":0.052},{"p":"T","x":1218,"y":0.059},{"p":"T","x":1147,"y":0.046},{"p":"T","x":1090,"y":0.052},{"p":"T","x":1046,"y":0.059},{"p":"T","x":981,"y":0.033},{"p":"T","x":950,"y":0.026},{"p":"T","x":900,"y":0.026},
{"p":"M","x":2000,"y":0.026},{"p":"M","x":1851,"y":0.03},{"p":"M","x":1803,"y":0.05},{"p":"M","x":1774,"y":0.113},{"p":"M","x":1755,"y":0.19},{"p":"M","x":1744,"y":0.215},{"p":"M","x":1723,"y":0.224},{"p":"M","x":1710,"y":0.31},{"p":"M","x":1697,"y":0.416},{"p":"M","x":1680,"y":0.53},{"p":"M","x":1661,"y":0.639},{"p":"M","x":1648,"y":0.71},{"p":"M","x":1635,"y":0.744},{"p":"M","x":1620,"y":0.73},{"p":"M","x":1602,"y":0.687},{"p":"M","x":1585,"y":0.63},{"p":"M","x":1566,"y":0.575},{"p":"M","x":1548,"y":0.525},{"p":"M","x":1531,"y":0.479},{"p":"M","x":1515,"y":0.43},{"p":"M","x":1501,"y":0.383},{"p":"M","x":1483,"y":0.342},{"p":"M","x":1470,"y":0.39},{"p":"M","x":1460,"y":0.422},{"p":"M","x":1440,"y":0.445},{"p":"M","x":1424,"y":0.457},{"p":"M","x":1400,"y":0.47},{"p":"M","x":1385,"y":0.44},{"p":"M","x":1371,"y":0.393},{"p":"M","x":1350,"y":0.355},{"p":"M","x":1329,"y":0.342},{"p":"M","x":1300,"y":0.338},{"p":"M","x":1270,"y":0.336},{"p":"M","x":1240,"y":0.338},{"p":"M","x":1211,"y":0.342},{"p":"M","x":1185,"y":0.36},{"p":"M","x":1158,"y":0.383},{"p":"M","x":1140,"y":0.41},{"p":"M","x":1122,"y":0.425},{"p":"M","x":1100,"y":0.405},{"p":"M","x":1081,"y":0.383},{"p":"M","x":1060,"y":0.37},{"p":"M","x":1039,"y":0.351},{"p":"M","x":1020,"y":0.3},{"p":"M","x":998,"y":0.24},{"p":"M","x":980,"y":0.18},{"p":"M","x":963,"y":0.128},{"p":"M","x":945,"y":0.085},{"p":"M","x":927,"y":0.055},{"p":"M","x":900,"y":0.03}
],
"ann":[
{"p":"C","k":"r","x":1904,"y":0.37,"t":"C=Q (1)"},{"p":"C","k":"r","x":1774,"y":0.37,"t":"Amide I (2)"},{"p":"C","k":"r","x":1546,"y":0.37,"t":"Amide II (3)"},{"p":"C","k":"r","x":1479,"y":0.37,"t":"CH₂ (4)"},{"p":"C","k":"r","x":1390,"y":0.42,"t":"COO (5)"},{"p":"C","k":"r","x":1253,"y":0.42,"t":"PO₂ (7)"},{"p":"C","k":"r","x":1099,"y":0.42,"t":"PO₂ (9)"},
{"p":"C","k":"rs","x":1458,"y":0.18,"t":"sci"},{"p":"C","k":"rs","x":1360,"y":0.21,"t":"sym"},{"p":"C","k":"rs","x":1227,"y":0.18,"t":"asym"},{"p":"C","k":"rs","x":1076,"y":0.21,"t":"sym"},
{"p":"L","k":"n","x":1773,"y":0.356,"t":"(1)"},{"p":"L","k":"n","x":1650,"y":0.7,"t":"(2)"},{"p":"L","k":"n","x":1550,"y":0.449,"t":"(3)"},{"p":"L","k":"n","x":1463,"y":0.305,"t":"(4)"},{"p":"L","k":"n","x":1384,"y":0.234,"t":"(5)"},{"p":"L","k":"n","x":1230,"y":0.2,"t":"(7)"},{"p":"L","k":"n","x":1078,"y":0.266,"t":"(9)"},{"p":"L","k":"n","x":1133,"y":0.66,"t":"COO(8)"},
{"p":"L","k":"s","x":1284,"y":0.6,"t":"asym"},
{"p":"G","k":"n","x":1751,"y":0.305,"t":"(1)"},{"p":"G","k":"n","x":1631,"y":0.593,"t":"(2)"},{"p":"G","k":"n","x":1542,"y":0.346,"t":"(3)"},{"p":"G","k":"n","x":1458,"y":0.256,"t":"(4)"},{"p":"G","k":"n","x":1367,"y":0.272,"t":"(5)"},{"p":"G","k":"n","x":1225,"y":0.256,"t":"(7)"},{"p":"G","k":"n","x":1073,"y":0.314,"t":"(9)"},
{"p":"P","k":"n","x":1756,"y":0.645,"t":"(1)"},{"p":"P","k":"n","x":1643,"y":0.3,"t":"(2)"},{"p":"P","k":"n","x":1534,"y":0.226,"t":"(3)"},{"p":"P","k":"n","x":1463,"y":0.387,"t":"(4)"},{"p":"P","k":"n","x":1356,"y":0.345,"t":"(6)"},{"p":"P","k":"n","x":1259,"y":0.404,"t":"(7)"},{"p":"P","k":"n","x":1164,"y":0.565,"t":"(8)"},{"p":"P","k":"n","x":1064,"y":0.371,"t":"(9)"},
{"p":"T","k":"n","x":1730,"y":0.249,"t":"(1)"},{"p":"T","k":"n","x":1630,"y":0.47,"t":"(2)"},{"p":"T","k":"n","x":1526,"y":0.288,"t":"(3)"},{"p":"T","k":"n","x":1437,"y":0.222,"t":"(4)"},{"p":"T","k":"n","x":1230,"y":0.21,"t":"(7)"},{"p":"T","k":"n","x":1073,"y":0.2,"t":"(9)"},
{"p":"M","k":"n","x":1786,"y":0.33,"t":"(1)"},{"p":"M","k":"n","x":1637,"y":1.045,"t":"(2)"},{"p":"M","k":"n","x":1513,"y":0.713,"t":"(3)"},{"p":"M","k":"n","x":1361,"y":0.527,"t":"(1)"},{"p":"M","k":"n","x":1302,"y":0.863,"t":"(6)"},{"p":"M","k":"n","x":1228,"y":0.502,"t":"(7)"},{"p":"M","k":"n","x":1110,"y":0.59,"t":"(8)"},{"p":"M","k":"n","x":1015,"y":0.496,"t":"(9)"}
],
"arr":[
{"p":"C","a":"1","x":1893,"y":0.355,"x2":1787,"y2":0.143},{"p":"C","a":"2","x":1751,"y":0.578,"x2":1695,"y2":0.578},
{"p":"L","a":"1","x":1153,"y":0.57,"x2":1153,"y2":0.2},
{"p":"M","a":"2","x":1640,"y":0.95,"x2":1640,"y2":0.32},{"p":"M","a":"3","x":1519,"y":0.585,"x2":1560,"y2":0.4},{"p":"M","a":"6","x":1302,"y":0.783,"x2":1302,"y2":0.1}
]
},
"vconcat":[
{"hconcat":[
 {"title":"Control","width":309,"height":135,"resolve":{"axis":{"x":"independent","y":"independent"}},
  "layer":[
   {"data":{"name":"comp"},"transform":[{"filter":"datum.p==='C'"}],"mark":{"type":"line","interpolate":"monotone","strokeWidth":0.9,"clip":true},
    "encoding":{"x":{"field":"x","type":"quantitative","scale":{"domain":[900,2000],"reverse":true,"nice":false,"zero":false},"axis":{"orient":"bottom","values":[2000,1750,1500,1250,1000],"format":"d","labelFlush":false,"labelExpr":"datum.value % 500 === 0 ? datum.label : ''","tickSize":{"condition":{"test":"datum.value % 500 === 0","value":6},"value":3},"title":null}},
     "y":{"field":"y","type":"quantitative","scale":{"domain":[-0.05,1.25],"nice":false,"zero":false},"axis":{"orient":"left","values":[0,0.25,0.5,0.75,1],"format":".1f","labelExpr":"(datum.value*4) % 2 === 0 ? datum.label : ''","tickSize":{"condition":{"test":"(datum.value*4) % 2 === 0","value":5},"value":3},"title":" "}},
     "detail":{"field":"s"}}},
   {"data":{"name":"env"},"transform":[{"filter":"datum.p==='C'"}],"mark":{"type":"line","interpolate":"monotone","strokeWidth":1.8,"clip":true},
    "encoding":{"x":{"field":"x","type":"quantitative","scale":{"domain":[900,2000],"reverse":true,"nice":false,"zero":false},"axis":{"orient":"top","values":[2000,1750,1500,1250,1000],"labels":false,"tickSize":{"condition":{"test":"datum.value % 500 === 0","value":-6},"value":-3},"title":null}},
     "y":{"field":"y","type":"quantitative","scale":{"domain":[-0.05,1.25],"nice":false,"zero":false},"axis":{"orient":"right","values":[0,0.25,0.5,0.75,1],"labels":false,"tickSize":{"condition":{"test":"(datum.value*4) % 2 === 0","value":-5},"value":-3},"title":null}}}},
   {"data":{"name":"base"},"transform":[{"filter":"datum.p==='C'"}],"mark":{"type":"rule","strokeWidth":1.4},"encoding":{"y":{"field":"y","type":"quantitative","scale":{"domain":[-0.05,1.25],"nice":false,"zero":false},"axis":null}}},
   {"data":{"name":"ann"},"transform":[{"filter":"datum.p==='C' && datum.k==='r'"}],"mark":{"type":"text","angle":270,"align":"left","baseline":"middle","fontSize":17},
    "encoding":{"x":{"field":"x","type":"quantitative","scale":{"domain":[900,2000],"reverse":true,"nice":false,"zero":false},"axis":null},"y":{"field":"y","type":"quantitative","scale":{"domain":[-0.05,1.25],"nice":false,"zero":false},"axis":null},"text":{"field":"t"}}},
   {"data":{"name":"ann"},"transform":[{"filter":"datum.p==='C' && datum.k==='rs'"}],"mark":{"type":"text","angle":270,"align":"left","baseline":"middle","fontSize":11},
    "encoding":{"x":{"field":"x","type":"quantitative","scale":{"domain":[900,2000],"reverse":true,"nice":false,"zero":false},"axis":null},"y":{"field":"y","type":"quantitative","scale":{"domain":[-0.05,1.25],"nice":false,"zero":false},"axis":null},"text":{"field":"t"}}},
   {"data":{"name":"arr"},"transform":[{"filter":"datum.p==='C'"}],"mark":{"type":"rule","strokeWidth":1},
    "encoding":{"x":{"field":"x","type":"quantitative","scale":{"domain":[900,2000],"reverse":true,"nice":false,"zero":false},"axis":null},"y":{"field":"y","type":"quantitative","scale":{"domain":[-0.05,1.25],"nice":false,"zero":false},"axis":null},"x2":{"field":"x2"},"y2":{"field":"y2"}}},
   {"data":{"name":"arr"},"transform":[{"filter":"datum.p==='C' && datum.a==='1'"}],"mark":{"type":"point","shape":"triangle-up","angle":126,"filled":true,"size":45,"opacity":1},
    "encoding":{"x":{"field":"x2","type":"quantitative","scale":{"domain":[900,2000],"reverse":true,"nice":false,"zero":false},"axis":null},"y":{"field":"y2","type":"quantitative","scale":{"domain":[-0.05,1.25],"nice":false,"zero":false},"axis":null}}},
   {"data":{"name":"arr"},"transform":[{"filter":"datum.p==='C' && datum.a==='2'"}],"mark":{"type":"point","shape":"triangle-up","angle":90,"filled":true,"size":45,"opacity":1},
    "encoding":{"x":{"field":"x2","type":"quantitative","scale":{"domain":[900,2000],"reverse":true,"nice":false,"zero":false},"axis":null},"y":{"field":"y2","type":"quantitative","scale":{"domain":[-0.05,1.25],"nice":false,"zero":false},"axis":null}}}
  ]},
 {"title":"Liposomes-ACZ","width":309,"height":135,"resolve":{"axis":{"x":"independent","y":"independent"}},
  "layer":[
   {"data":{"name":"comp"},"transform":[{"filter":"datum.p==='L'"}],"mark":{"type":"line","interpolate":"monotone","strokeWidth":0.9,"clip":true},
    "encoding":{"x":{"field":"x","type":"quantitative","scale":{"domain":[900,2000],"reverse":true,"nice":false,"zero":false},"axis":{"orient":"bottom","values":[2000,1750,1500,1250,1000],"format":"d","labelFlush":false,"labelExpr":"datum.value % 500 === 0 ? datum.label : ''","tickSize":{"condition":{"test":"datum.value % 500 === 0","value":6},"value":3},"title":null}},
     "y":{"field":"y","type":"quantitative","scale":{"domain":[-0.05,1.25],"nice":false,"zero":false},"axis":{"orient":"left","values":[0,0.25,0.5,0.75,1],"format":".1f","labelExpr":"(datum.value*4) % 2 === 0 ? datum.label : ''","tickSize":{"condition":{"test":"(datum.value*4) % 2 === 0","value":5},"value":3},"title":" "}},
     "detail":{"field":"s"}}},
   {"data":{"name":"env"},"transform":[{"filter":"datum.p==='L'"}],"mark":{"type":"line","interpolate":"monotone","strokeWidth":1.8,"clip":true},
    "encoding":{"x":{"field":"x","type":"quantitative","scale":{"domain":[900,2000],"reverse":true,"nice":false,"zero":false},"axis":{"orient":"top","values":[2000,1750,1500,1250,1000],"labels":false,"tickSize":{"condition":{"test":"datum.value % 500 === 0","value":-6},"value":-3},"title":null}},
     "y":{"field":"y","type":"quantitative","scale":{"domain":[-0.05,1.25],"nice":false,"zero":false},"axis":{"orient":"right","values":[0,0.25,0.5,0.75,1],"labels":false,"tickSize":{"condition":{"test":"(datum.value*4) % 2 === 0","value":-5},"value":-3},"title":null}}}},
   {"data":{"name":"base"},"transform":[{"filter":"datum.p==='L'"}],"mark":{"type":"rule","strokeWidth":1.4},"encoding":{"y":{"field":"y","type":"quantitative","scale":{"domain":[-0.05,1.25],"nice":false,"zero":false},"axis":null}}},
   {"data":{"name":"ann"},"transform":[{"filter":"datum.p==='L' && datum.k==='n'"}],"mark":{"type":"text","baseline":"middle","fontSize":17},
    "encoding":{"x":{"field":"x","type":"quantitative","scale":{"domain":[900,2000],"reverse":true,"nice":false,"zero":false},"axis":null},"y":{"field":"y","type":"quantitative","scale":{"domain":[-0.05,1.25],"nice":false,"zero":false},"axis":null},"text":{"field":"t"}}},
   {"data":{"name":"ann"},"transform":[{"filter":"datum.p==='L' && datum.k==='s'"}],"mark":{"type":"text","baseline":"middle","fontSize":11},
    "encoding":{"x":{"field":"x","type":"quantitative","scale":{"domain":[900,2000],"reverse":true,"nice":false,"zero":false},"axis":null},"y":{"field":"y","type":"quantitative","scale":{"domain":[-0.05,1.25],"nice":false,"zero":false},"axis":null},"text":{"field":"t"}}},
   {"data":{"name":"arr"},"transform":[{"filter":"datum.p==='L'"}],"mark":{"type":"rule","strokeWidth":1},
    "encoding":{"x":{"field":"x","type":"quantitative","scale":{"domain":[900,2000],"reverse":true,"nice":false,"zero":false},"axis":null},"y":{"field":"y","type":"quantitative","scale":{"domain":[-0.05,1.25],"nice":false,"zero":false},"axis":null},"x2":{"field":"x2"},"y2":{"field":"y2"}}},
   {"data":{"name":"arr"},"transform":[{"filter":"datum.p==='L'"}],"mark":{"type":"point","shape":"triangle-up","angle":180,"filled":true,"size":45,"opacity":1},
    "encoding":{"x":{"field":"x2","type":"quantitative","scale":{"domain":[900,2000],"reverse":true,"nice":false,"zero":false},"axis":null},"y":{"field":"y2","type":"quantitative","scale":{"domain":[-0.05,1.25],"nice":false,"zero":false},"axis":null}}}
  ]}
],"spacing":20},
{"hconcat":[
 {"title":"Glaucoma","width":309,"height":135,"resolve":{"axis":{"x":"independent","y":"independent"}},
  "layer":[
   {"data":{"name":"comp"},"transform":[{"filter":"datum.p==='G'"}],"mark":{"type":"line","interpolate":"monotone","strokeWidth":0.9,"clip":true},
    "encoding":{"x":{"field":"x","type":"quantitative","scale":{"domain":[900,2000],"reverse":true,"nice":false,"zero":false},"axis":{"orient":"bottom","values":[2000,1750,1500,1250,1000],"format":"d","labelFlush":false,"labelExpr":"datum.value % 500 === 0 ? datum.label : ''","tickSize":{"condition":{"test":"datum.value % 500 === 0","value":6},"value":3},"title":null}},
     "y":{"field":"y","type":"quantitative","scale":{"domain":[-0.05,1.25],"nice":false,"zero":false},"axis":{"orient":"left","values":[0,0.25,0.5,0.75,1],"format":".1f","labelExpr":"(datum.value*4) % 2 === 0 ? datum.label : ''","tickSize":{"condition":{"test":"(datum.value*4) % 2 === 0","value":5},"value":3},"title":"Absorbance"}},
     "detail":{"field":"s"}}},
   {"data":{"name":"env"},"transform":[{"filter":"datum.p==='G'"}],"mark":{"type":"line","interpolate":"monotone","strokeWidth":1.8,"clip":true},
    "encoding":{"x":{"field":"x","type":"quantitative","scale":{"domain":[900,2000],"reverse":true,"nice":false,"zero":false},"axis":{"orient":"top","values":[2000,1750,1500,1250,1000],"labels":false,"tickSize":{"condition":{"test":"datum.value % 500 === 0","value":-6},"value":-3},"title":null}},
     "y":{"field":"y","type":"quantitative","scale":{"domain":[-0.05,1.25],"nice":false,"zero":false},"axis":{"orient":"right","values":[0,0.25,0.5,0.75,1],"labels":false,"tickSize":{"condition":{"test":"(datum.value*4) % 2 === 0","value":-5},"value":-3},"title":null}}}},
   {"data":{"name":"base"},"transform":[{"filter":"datum.p==='G'"}],"mark":{"type":"rule","strokeWidth":1.4},"encoding":{"y":{"field":"y","type":"quantitative","scale":{"domain":[-0.05,1.25],"nice":false,"zero":false},"axis":null}}},
   {"data":{"name":"ann"},"transform":[{"filter":"datum.p==='G' && datum.k==='n'"}],"mark":{"type":"text","baseline":"middle","fontSize":17},
    "encoding":{"x":{"field":"x","type":"quantitative","scale":{"domain":[900,2000],"reverse":true,"nice":false,"zero":false},"axis":null},"y":{"field":"y","type":"quantitative","scale":{"domain":[-0.05,1.25],"nice":false,"zero":false},"axis":null},"text":{"field":"t"}}}
  ]},
 {"title":"Propolis-ACZ","width":309,"height":135,"resolve":{"axis":{"x":"independent","y":"independent"}},
  "layer":[
   {"data":{"name":"comp"},"transform":[{"filter":"datum.p==='P'"}],"mark":{"type":"line","interpolate":"monotone","strokeWidth":0.9,"clip":true},
    "encoding":{"x":{"field":"x","type":"quantitative","scale":{"domain":[900,2000],"reverse":true,"nice":false,"zero":false},"axis":{"orient":"bottom","values":[2000,1750,1500,1250,1000],"format":"d","labelFlush":false,"labelExpr":"datum.value % 500 === 0 ? datum.label : ''","tickSize":{"condition":{"test":"datum.value % 500 === 0","value":6},"value":3},"title":null}},
     "y":{"field":"y","type":"quantitative","scale":{"domain":[-0.05,1.25],"nice":false,"zero":false},"axis":{"orient":"left","values":[0,0.25,0.5,0.75,1],"format":".1f","labelExpr":"(datum.value*4) % 2 === 0 ? datum.label : ''","tickSize":{"condition":{"test":"(datum.value*4) % 2 === 0","value":5},"value":3},"title":"Absorbance"}},
     "detail":{"field":"s"}}},
   {"data":{"name":"env"},"transform":[{"filter":"datum.p==='P'"}],"mark":{"type":"line","interpolate":"monotone","strokeWidth":1.8,"clip":true},
    "encoding":{"x":{"field":"x","type":"quantitative","scale":{"domain":[900,2000],"reverse":true,"nice":false,"zero":false},"axis":{"orient":"top","values":[2000,1750,1500,1250,1000],"labels":false,"tickSize":{"condition":{"test":"datum.value % 500 === 0","value":-6},"value":-3},"title":null}},
     "y":{"field":"y","type":"quantitative","scale":{"domain":[-0.05,1.25],"nice":false,"zero":false},"axis":{"orient":"right","values":[0,0.25,0.5,0.75,1],"labels":false,"tickSize":{"condition":{"test":"(datum.value*4) % 2 === 0","value":-5},"value":-3},"title":null}}}},
   {"data":{"name":"base"},"transform":[{"filter":"datum.p==='P'"}],"mark":{"type":"rule","strokeWidth":1.4},"encoding":{"y":{"field":"y","type":"quantitative","scale":{"domain":[-0.05,1.25],"nice":false,"zero":false},"axis":null}}},
   {"data":{"name":"ann"},"transform":[{"filter":"datum.p==='P' && datum.k==='n'"}],"mark":{"type":"text","baseline":"middle","fontSize":17},
    "encoding":{"x":{"field":"x","type":"quantitative","scale":{"domain":[900,2000],"reverse":true,"nice":false,"zero":false},"axis":null},"y":{"field":"y","type":"quantitative","scale":{"domain":[-0.05,1.25],"nice":false,"zero":false},"axis":null},"text":{"field":"t"}}}
  ]}
],"spacing":20},
{"hconcat":[
 {"title":"Topical-ACZ","width":309,"height":135,"resolve":{"axis":{"x":"independent","y":"independent"}},
  "layer":[
   {"data":{"name":"comp"},"transform":[{"filter":"datum.p==='T'"}],"mark":{"type":"line","interpolate":"monotone","strokeWidth":0.9,"clip":true},
    "encoding":{"x":{"field":"x","type":"quantitative","scale":{"domain":[900,2000],"reverse":true,"nice":false,"zero":false},"axis":{"orient":"bottom","values":[2000,1750,1500,1250,1000],"format":"d","labelFlush":false,"labelExpr":"datum.value % 500 === 0 ? datum.label : ''","tickSize":{"condition":{"test":"datum.value % 500 === 0","value":6},"value":3},"title":"Wavenumber (cm⁻¹)","titleFontSize":24,"titlePadding":1}},
     "y":{"field":"y","type":"quantitative","scale":{"domain":[-0.05,1.25],"nice":false,"zero":false},"axis":{"orient":"left","values":[0,0.25,0.5,0.75,1],"format":".1f","labelExpr":"(datum.value*4) % 2 === 0 ? datum.label : ''","tickSize":{"condition":{"test":"(datum.value*4) % 2 === 0","value":5},"value":3},"title":" "}},
     "detail":{"field":"s"}}},
   {"data":{"name":"env"},"transform":[{"filter":"datum.p==='T'"}],"mark":{"type":"line","interpolate":"monotone","strokeWidth":1.8,"clip":true},
    "encoding":{"x":{"field":"x","type":"quantitative","scale":{"domain":[900,2000],"reverse":true,"nice":false,"zero":false},"axis":{"orient":"top","values":[2000,1750,1500,1250,1000],"labels":false,"tickSize":{"condition":{"test":"datum.value % 500 === 0","value":-6},"value":-3},"title":null}},
     "y":{"field":"y","type":"quantitative","scale":{"domain":[-0.05,1.25],"nice":false,"zero":false},"axis":{"orient":"right","values":[0,0.25,0.5,0.75,1],"labels":false,"tickSize":{"condition":{"test":"(datum.value*4) % 2 === 0","value":-5},"value":-3},"title":null}}}},
   {"data":{"name":"base"},"transform":[{"filter":"datum.p==='T'"}],"mark":{"type":"rule","strokeWidth":1.4},"encoding":{"y":{"field":"y","type":"quantitative","scale":{"domain":[-0.05,1.25],"nice":false,"zero":false},"axis":null}}},
   {"data":{"name":"ann"},"transform":[{"filter":"datum.p==='T' && datum.k==='n'"}],"mark":{"type":"text","baseline":"middle","fontSize":17},
    "encoding":{"x":{"field":"x","type":"quantitative","scale":{"domain":[900,2000],"reverse":true,"nice":false,"zero":false},"axis":null},"y":{"field":"y","type":"quantitative","scale":{"domain":[-0.05,1.25],"nice":false,"zero":false},"axis":null},"text":{"field":"t"}}}
  ]},
 {"title":"Pomegranate-ACZ","width":309,"height":135,"resolve":{"axis":{"x":"independent","y":"independent"}},
  "layer":[
   {"data":{"name":"comp"},"transform":[{"filter":"datum.p==='M'"}],"mark":{"type":"line","interpolate":"monotone","strokeWidth":0.9,"clip":true},
    "encoding":{"x":{"field":"x","type":"quantitative","scale":{"domain":[900,2000],"reverse":true,"nice":false,"zero":false},"axis":{"orient":"bottom","values":[2000,1750,1500,1250,1000],"format":"d","labelFlush":false,"labelExpr":"datum.value % 500 === 0 ? datum.label : ''","tickSize":{"condition":{"test":"datum.value % 500 === 0","value":6},"value":3},"title":"Wavenumber (cm⁻¹)","titleFontSize":24,"titlePadding":1}},
     "y":{"field":"y","type":"quantitative","scale":{"domain":[-0.05,1.25],"nice":false,"zero":false},"axis":{"orient":"left","values":[0,0.25,0.5,0.75,1],"format":".1f","labelExpr":"(datum.value*4) % 2 === 0 ? datum.label : ''","tickSize":{"condition":{"test":"(datum.value*4) % 2 === 0","value":5},"value":3},"title":" "}},
     "detail":{"field":"s"}}},
   {"data":{"name":"env"},"transform":[{"filter":"datum.p==='M'"}],"mark":{"type":"line","interpolate":"monotone","strokeWidth":1.8,"clip":true},
    "encoding":{"x":{"field":"x","type":"quantitative","scale":{"domain":[900,2000],"reverse":true,"nice":false,"zero":false},"axis":{"orient":"top","values":[2000,1750,1500,1250,1000],"labels":false,"tickSize":{"condition":{"test":"datum.value % 500 === 0","value":-6},"value":-3},"title":null}},
     "y":{"field":"y","type":"quantitative","scale":{"domain":[-0.05,1.25],"nice":false,"zero":false},"axis":{"orient":"right","values":[0,0.25,0.5,0.75,1],"labels":false,"tickSize":{"condition":{"test":"(datum.value*4) % 2 === 0","value":-5},"value":-3},"title":null}}}},
   {"data":{"name":"base"},"transform":[{"filter":"datum.p==='M'"}],"mark":{"type":"rule","strokeWidth":1.4},"encoding":{"y":{"field":"y","type":"quantitative","scale":{"domain":[-0.05,1.25],"nice":false,"zero":false},"axis":null}}},
   {"data":{"name":"ann"},"transform":[{"filter":"datum.p==='M' && datum.k==='n'"}],"mark":{"type":"text","baseline":"middle","fontSize":17},
    "encoding":{"x":{"field":"x","type":"quantitative","scale":{"domain":[900,2000],"reverse":true,"nice":false,"zero":false},"axis":null},"y":{"field":"y","type":"quantitative","scale":{"domain":[-0.05,1.25],"nice":false,"zero":false},"axis":null},"text":{"field":"t"}}},
   {"data":{"name":"arr"},"transform":[{"filter":"datum.p==='M'"}],"mark":{"type":"rule","strokeWidth":1},
    "encoding":{"x":{"field":"x","type":"quantitative","scale":{"domain":[900,2000],"reverse":true,"nice":false,"zero":false},"axis":null},"y":{"field":"y","type":"quantitative","scale":{"domain":[-0.05,1.25],"nice":false,"zero":false},"axis":null},"x2":{"field":"x2"},"y2":{"field":"y2"}}},
   {"data":{"name":"arr"},"transform":[{"filter":"datum.p==='M' && datum.a!=='3'"}],"mark":{"type":"point","shape":"triangle-up","angle":180,"filled":true,"size":45,"opacity":1},
    "encoding":{"x":{"field":"x2","type":"quantitative","scale":{"domain":[900,2000],"reverse":true,"nice":false,"zero":false},"axis":null},"y":{"field":"y2","type":"quantitative","scale":{"domain":[-0.05,1.25],"nice":false,"zero":false},"axis":null}}},
   {"data":{"name":"arr"},"transform":[{"filter":"datum.p==='M' && datum.a==='3'"}],"mark":{"type":"point","shape":"triangle-up","angle":211,"filled":true,"size":45,"opacity":1},
    "encoding":{"x":{"field":"x2","type":"quantitative","scale":{"domain":[900,2000],"reverse":true,"nice":false,"zero":false},"axis":null},"y":{"field":"y2","type":"quantitative","scale":{"domain":[-0.05,1.25],"nice":false,"zero":false},"axis":null}}}
  ]}
],"spacing":20}
],
"spacing":10
}
